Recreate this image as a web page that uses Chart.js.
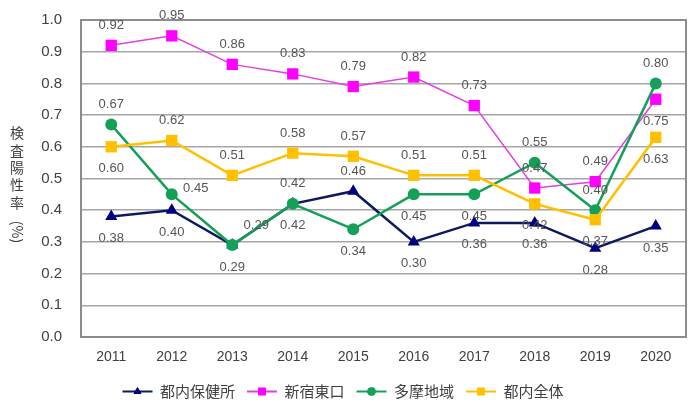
<!DOCTYPE html>
<html>
<head>
<meta charset="utf-8">
<script src="https://cdn.jsdelivr.net/npm/chart.js@4.4.0/dist/chart.umd.min.js"></script>
<style>
  html, body { margin: 0; background: #fff; }
</style>
</head>
<body>
<canvas id="myChart" width="700" height="409"></canvas>
<script>
// 検査陽性率 (%)
const years = ['2011', '2012', '2013', '2014', '2015', '2016', '2017', '2018', '2019', '2020'];
const hokenjo = [0.38, 0.40, 0.29, 0.42, 0.46, 0.30, 0.36, 0.36, 0.28, 0.35];   // 都内保健所
const shinjuku = [0.92, 0.95, 0.86, 0.83, 0.79, 0.82, 0.73, 0.47, 0.49, 0.75];  // 新宿東口
const tama = [0.67, 0.45, 0.29, 0.42, 0.34, 0.45, 0.45, 0.55, 0.40, 0.80];      // 多摩地域
const tonai = [0.60, 0.62, 0.51, 0.58, 0.57, 0.51, 0.51, 0.42, 0.37, 0.63];     // 都内全体
const yTicks = [0, 0.1, 0.2, 0.3, 0.4, 0.5, 0.6, 0.7, 0.8, 0.9, 1.0];

// where each value label sits: a = above, b = below, r = right, ar = above right
const hokenjoPos = ['b', 'b', 'b', 'a', 'a', 'b', 'b', 'b', 'b', 'b'];
const shinjukuPos = ['a', 'a', 'a', 'a', 'a', 'a', 'a', 'a', 'a', 'b'];
const tamaPos = ['a', 'r', 'ar', 'b', 'b', 'b', 'b', 'a', 'a', 'a'];
const tonaiPos = ['b', 'a', 'a', 'a', 'a', 'a', 'a', 'b', 'b', 'b'];

Chart.defaults.font.family = "'Liberation Sans', 'Noto Sans CJK JP', sans-serif";
Chart.defaults.color = '#404040';

const labelOffsets = {
  a: [0, -20],
  b: [0, 22],
  r: [24, -6],
  ar: [24, -20]
};

const valueLabels = {
  id: 'valueLabels',
  afterDatasetsDraw(chart) {
    const ctx = chart.ctx;
    ctx.save();
    ctx.font = "13px 'Liberation Sans', sans-serif";
    ctx.fillStyle = '#555555';
    ctx.textAlign = 'center';
    ctx.textBaseline = 'middle';
    chart.data.datasets.forEach((ds, i) => {
      const meta = chart.getDatasetMeta(i);
      meta.data.forEach((pt, j) => {
        const off = labelOffsets[ds.labelPos[j]];
        ctx.fillText(ds.data[j].toFixed(2), pt.x + off[0], pt.y + off[1]);
      });
    });
    ctx.restore();
  }
};

const frameAndTitle = {
  id: 'frameAndTitle',
  beforeDatasetsDraw(chart) {
    const a = chart.chartArea;
    const ctx = chart.ctx;
    ctx.save();
    ctx.strokeStyle = '#8c8c8c';
    ctx.lineWidth = 2;
    ctx.strokeRect(a.left, a.top, a.right - a.left, a.bottom - a.top);
    ctx.restore();
  },
  afterDraw(chart) {
    const ctx = chart.ctx;
    ctx.save();
    ctx.font = "14px 'Noto Sans CJK JP', sans-serif";
    ctx.fillStyle = '#404040';
    ctx.textAlign = 'center';
    ctx.textBaseline = 'middle';
    const chars = ['検', '査', '陽', '性', '率'];
    chars.forEach((c, i) => ctx.fillText(c, 17, 133 + i * 17.3));
    ctx.translate(17, 232);
    ctx.rotate(Math.PI / 2);
    ctx.fillText('(%)', 0, 0);
    ctx.restore();

    // markers in the middle of the legend lines
    const lg = chart.legend;
    ctx.save();
    lg.legendItems.forEach((item, k) => {
      const box = lg.legendHitBoxes[k];
      const ds = chart.data.datasets[item.datasetIndex];
      ctx.fillStyle = ds.pointBackgroundColor;
      ctx.strokeStyle = ds.pointBackgroundColor;
      Chart.helpers.drawPoint(ctx, {
        pointStyle: ds.pointStyle, radius: ds.pointStyle === 'rect' ? 5 : 4, borderWidth: 1, rotation: 0
      }, box.left + 15, box.top + box.height / 2);
    });
    ctx.restore();
  }
};

new Chart(document.getElementById('myChart').getContext('2d'), {
  type: 'line',
  data: {
    labels: years,
    datasets: [
      {
        label: '都内全体', data: tonai, labelPos: tonaiPos,
        borderColor: '#ffc000', backgroundColor: '#ffc000', pointBackgroundColor: '#ffc000',
        borderWidth: 2.5, pointStyle: 'rect', pointRadius: 8, pointBorderWidth: 0
      },
      {
        label: '多摩地域', data: tama, labelPos: tamaPos,
        borderColor: '#15a05a', backgroundColor: '#15a05a', pointBackgroundColor: '#15a05a',
        borderWidth: 2.5, pointStyle: 'circle', pointRadius: 6, pointBorderWidth: 0
      },
      {
        label: '新宿東口', data: shinjuku, labelPos: shinjukuPos,
        borderColor: '#e040e0', backgroundColor: '#ff00ff', pointBackgroundColor: '#ff00ff',
        borderWidth: 1.5, pointStyle: 'rect', pointRadius: 8, pointBorderWidth: 0
      },
      {
        label: '都内保健所', data: hokenjo, labelPos: hokenjoPos,
        borderColor: '#0d1b5e', backgroundColor: '#000080', pointBackgroundColor: '#000080',
        borderWidth: 2.5, pointStyle: 'triangle', pointRadius: 7, pointBorderWidth: 0
      }
    ]
  },
  options: {
    responsive: false,
    animation: false,
    layout: { padding: { top: 20, right: 14, bottom: 0, left: 0 } },
    scales: {
      x: {
        offset: true,
        grid: { display: false, drawTicks: false },
        border: { display: false },
        ticks: { padding: 12, font: { size: 14 }, color: '#404040' },
        afterFit: (s) => { s.height = 35; }
      },
      y: {
        min: 0,
        max: 1,
        afterBuildTicks: (s) => { s.ticks = yTicks.map(v => ({ value: v })); },
        grid: { color: '#a6a6a6', lineWidth: 1.5, drawTicks: true, tickLength: 16, tickColor: 'rgba(0,0,0,0)' },
        border: { display: false },
        ticks: { padding: 3, font: { size: 15 }, color: '#404040', callback: (v) => v.toFixed(1) },
        afterFit: (s) => { s.width = 81; }
      }
    },
    plugins: {
      tooltip: { enabled: false },
      legend: {
        position: 'bottom',
        reverse: true,
        labels: {
          boxWidth: 30,
          boxHeight: 2,
          padding: 12,
          color: '#404040',
          font: { size: 15, family: "'Noto Sans CJK JP', sans-serif" },
          generateLabels: (chart) => Chart.defaults.plugins.legend.labels.generateLabels(chart)
            .map(l => Object.assign(l, { lineWidth: 0, fillStyle: l.strokeStyle }))
        }
      }
    }
  },
  plugins: [frameAndTitle, valueLabels]
});
</script>
</body>
</html>
